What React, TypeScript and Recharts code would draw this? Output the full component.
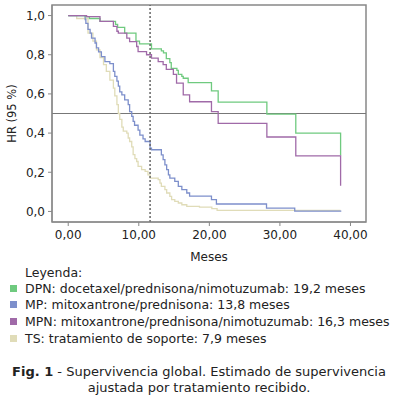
import { LineChart, Line, XAxis, YAxis, ReferenceLine, ReferenceArea } from "recharts";

// Kaplan-Meier steps: t = meses, s = supervivencia
const dpn = [
  { t: 0, s: 1.0 }, { t: 2.4, s: 0.995 }, { t: 3.0, s: 0.985 }, { t: 4.5, s: 0.97 },
  { t: 6.7, s: 0.955 }, { t: 7.0, s: 0.94 }, { t: 8.0, s: 0.91 }, { t: 9.6, s: 0.87 },
  { t: 10.1, s: 0.855 }, { t: 11.8, s: 0.83 }, { t: 13.2, s: 0.82 }, { t: 13.5, s: 0.81 },
  { t: 13.9, s: 0.78 }, { t: 14.4, s: 0.76 }, { t: 14.6, s: 0.73 }, { t: 15.4, s: 0.72 },
  { t: 15.6, s: 0.7 }, { t: 16.1, s: 0.69 }, { t: 16.3, s: 0.68 }, { t: 17.0, s: 0.658 },
  { t: 20.3, s: 0.616 }, { t: 21.25, s: 0.558 }, { t: 28.15, s: 0.497 }, { t: 32.25, s: 0.4 },
  { t: 38.6, s: 0.285 },
];

const mp = [
  { t: 0, s: 1.0 }, { t: 2.4, s: 0.98 }, { t: 2.5, s: 0.96 }, { t: 2.8, s: 0.93 },
  { t: 3.1, s: 0.91 }, { t: 3.3, s: 0.885 }, { t: 3.8, s: 0.86 }, { t: 4.0, s: 0.835 },
  { t: 4.3, s: 0.815 }, { t: 4.7, s: 0.79 }, { t: 5.2, s: 0.765 }, { t: 5.9, s: 0.755 },
  { t: 6.4, s: 0.715 }, { t: 6.6, s: 0.69 }, { t: 6.9, s: 0.665 }, { t: 7.1, s: 0.64 },
  { t: 7.3, s: 0.61 }, { t: 7.6, s: 0.595 }, { t: 8.0, s: 0.57 }, { t: 8.5, s: 0.545 },
  { t: 8.7, s: 0.51 }, { t: 9.0, s: 0.485 }, { t: 9.2, s: 0.46 }, { t: 9.4, s: 0.44 },
  { t: 9.9, s: 0.415 }, { t: 10.15, s: 0.39 }, { t: 10.6, s: 0.37 }, { t: 10.9, s: 0.357 },
  { t: 11.6, s: 0.323 }, { t: 11.8, s: 0.315 }, { t: 13.2, s: 0.289 }, { t: 13.45, s: 0.264 },
  { t: 13.7, s: 0.238 }, { t: 13.95, s: 0.213 }, { t: 14.2, s: 0.187 }, { t: 14.4, s: 0.17 },
  { t: 15.1, s: 0.153 }, { t: 15.6, s: 0.128 }, { t: 16.1, s: 0.111 }, { t: 16.8, s: 0.094 },
  { t: 17.2, s: 0.078 }, { t: 20.3, s: 0.06 }, { t: 21.0, s: 0.038 }, { t: 28.1, s: 0.017 },
  { t: 32.1, s: 0.002 }, { t: 38.7, s: 0.002 },
];

const mpn = [
  { t: 0, s: 1.0 }, { t: 2.6, s: 0.995 }, { t: 4.5, s: 0.97 }, { t: 6.4, s: 0.945 },
  { t: 6.9, s: 0.92 }, { t: 7.1, s: 0.91 }, { t: 8.3, s: 0.885 }, { t: 8.7, s: 0.867 },
  { t: 9.7, s: 0.842 }, { t: 9.9, s: 0.816 }, { t: 11.1, s: 0.8 }, { t: 11.8, s: 0.783 },
  { t: 12.75, s: 0.765 }, { t: 13.45, s: 0.75 }, { t: 13.9, s: 0.725 }, { t: 14.9, s: 0.7 },
  { t: 15.35, s: 0.655 }, { t: 16.3, s: 0.595 }, { t: 17.2, s: 0.56 }, { t: 20.3, s: 0.51 },
  { t: 21.25, s: 0.45 }, { t: 28.15, s: 0.38 }, { t: 32.25, s: 0.284 }, { t: 38.6, s: 0.131 },
];

const ts = [
  { t: 0, s: 1.0 }, { t: 1.2, s: 0.985 }, { t: 2.8, s: 0.91 }, { t: 3.5, s: 0.87 },
  { t: 4.0, s: 0.825 }, { t: 4.5, s: 0.785 }, { t: 5.0, s: 0.75 }, { t: 5.4, s: 0.715 },
  { t: 5.9, s: 0.67 }, { t: 6.4, s: 0.63 }, { t: 6.6, s: 0.59 }, { t: 6.9, s: 0.545 },
  { t: 7.1, s: 0.5 }, { t: 7.3, s: 0.47 }, { t: 7.6, s: 0.43 }, { t: 7.8, s: 0.41 },
  { t: 8.3, s: 0.4 }, { t: 8.5, s: 0.375 }, { t: 8.7, s: 0.357 }, { t: 9.0, s: 0.33 },
  { t: 9.2, s: 0.29 }, { t: 9.45, s: 0.27 }, { t: 9.7, s: 0.255 }, { t: 9.9, s: 0.23 },
  { t: 10.4, s: 0.213 }, { t: 10.9, s: 0.204 }, { t: 11.3, s: 0.187 }, { t: 11.6, s: 0.17 },
  { t: 12.75, s: 0.162 }, { t: 13.0, s: 0.145 }, { t: 13.2, s: 0.128 }, { t: 13.7, s: 0.111 },
  { t: 13.95, s: 0.094 }, { t: 14.4, s: 0.077 }, { t: 14.65, s: 0.06 }, { t: 15.1, s: 0.051 },
  { t: 15.6, s: 0.043 }, { t: 16.1, s: 0.034 }, { t: 16.8, s: 0.026 }, { t: 18.6, s: 0.022 },
  { t: 20.35, s: 0.014 }, { t: 21.1, s: 0.005 }, { t: 38.6, s: 0.005 },
];

const xTicks = [0, 10, 20, 30, 40];
const yTicks = [0, 0.2, 0.4, 0.6, 0.8, 1.0];
const corte = 11.6;

const legend = [
  { label: "DPN: docetaxel/prednisona/nimotuzumab: 19,2 meses", color: "#6fca7f" },
  { label: "MP: mitoxantrone/prednisona: 13,8 meses", color: "#7d8fcb" },
  { label: "MPN: mitoxantrone/prednisona/nimotuzumab: 16,3 meses", color: "#a06aa8" },
  { label: "TS: tratamiento de soporte: 7,9 meses", color: "#e0dcb8" },
];

const font = "'DejaVu Sans', Verdana, sans-serif";
const X_DOM: [number, number] = [-2.3, 42.2];
const Y_DOM: [number, number] = [-0.054, 1.054];

export default function App() {
  return (
    <div style={{ position: "absolute", left: 0, top: 0, width: 398, height: 403, background: "#fff", fontFamily: font, color: "#222" }}>
      <LineChart width={398} height={266} margin={{ top: 5, right: 32, left: 0, bottom: 0 }}>
        <XAxis
          dataKey="t"
          type="number"
          domain={X_DOM}
          allowDataOverflow
          ticks={xTicks}
          tickFormatter={(v: number) => v.toFixed(2).replace(".", ",")}
          tickSize={4}
          tickMargin={4}
          height={44}
          stroke="#888"
          tick={{ fill: "#222", fontSize: 12, fontFamily: font }}
          label={{ value: "Meses", position: "insideBottom", offset: 5, style: { fill: "#222", fontSize: 12, fontFamily: font } }}
        />
        <YAxis
          type="number"
          domain={Y_DOM}
          allowDataOverflow
          ticks={yTicks}
          tickFormatter={(v: number) => v.toFixed(1).replace(".", ",")}
          tickSize={4}
          tickMargin={3}
          width={52}
          stroke="#888"
          tick={{ fill: "#222", fontSize: 12, fontFamily: font }}
          label={{ value: "HR (95 %)", angle: -90, position: "insideLeft", offset: 12, style: { textAnchor: "middle", fill: "#222", fontSize: 11.5, fontFamily: font } }}
        />
        <ReferenceArea x1={X_DOM[0]} x2={X_DOM[1]} y1={Y_DOM[0]} y2={Y_DOM[1]} fill="none" stroke="#888" strokeWidth={1.5} />
        <ReferenceLine y={0.5} stroke="#777" strokeWidth={1} />
        <Line data={ts} dataKey="s" type="stepAfter" stroke="#e0dcb8" strokeWidth={1.3} dot={false} isAnimationActive={false} />
        <Line data={mp} dataKey="s" type="stepAfter" stroke="#7d8fcb" strokeWidth={1.3} dot={false} isAnimationActive={false} />
        <Line data={dpn} dataKey="s" type="stepAfter" stroke="#6fca7f" strokeWidth={1.3} dot={false} isAnimationActive={false} />
        <Line data={mpn} dataKey="s" type="stepAfter" stroke="#a06aa8" strokeWidth={1.3} dot={false} isAnimationActive={false} />
        <ReferenceLine x={corte} stroke="#666" strokeWidth={1.5} strokeDasharray="2 2" />
      </LineChart>
      <div style={{ position: "absolute", left: 25, top: 264, fontSize: 12.5, lineHeight: "17px" }}>Leyenda:</div>
      {legend.map((l, i) => (
        <div key={l.label} style={{ position: "absolute", left: 10, top: 279.5 + i * 16.7, fontSize: 12.5, lineHeight: "17px", whiteSpace: "nowrap", display: "flex", alignItems: "center" }}>
          <span style={{ display: "inline-block", width: 7, height: 7, background: l.color, marginRight: 8 }} />
          {l.label}
        </div>
      ))}
      <div style={{ position: "absolute", left: 0, width: 398, top: 364, fontSize: 13, lineHeight: "16px", textAlign: "center", whiteSpace: "nowrap" }}>
        <b>Fig. 1</b> - Supervivencia global. Estimado de supervivencia
        <br />
        ajustada por tratamiento recibido.
      </div>
    </div>
  );
}
